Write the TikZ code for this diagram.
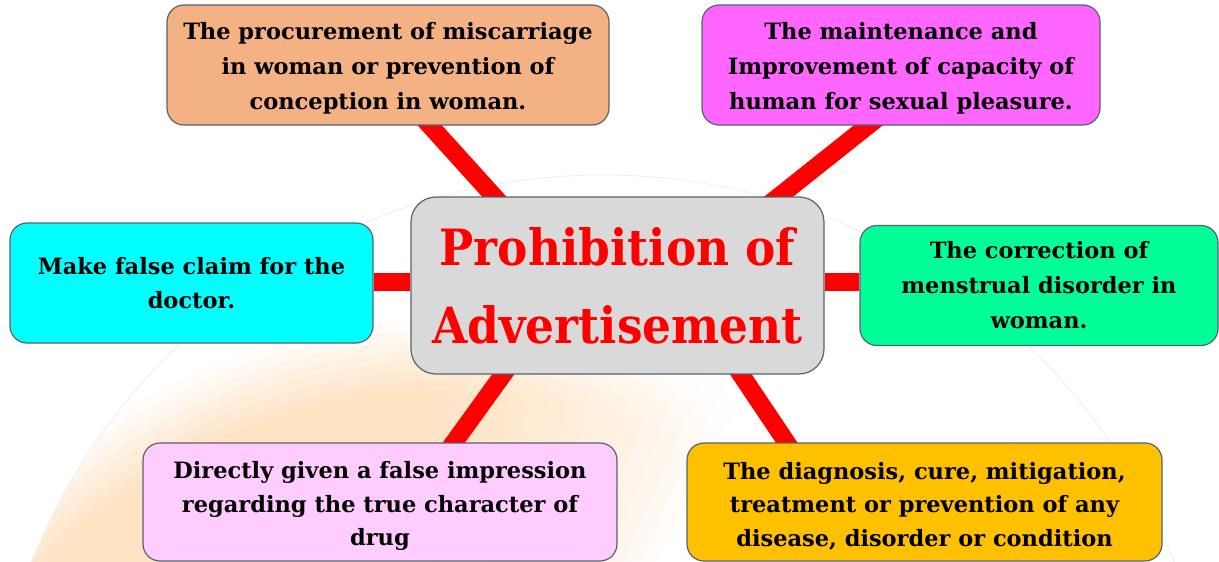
\documentclass[tikz,border=0pt]{standalone}
\usepackage{fontspec}
\setmainfont{DejaVu Serif}
\newfontfamily\boxfont{DejaVu Serif}
\newfontfamily\titlefont[FakeStretch=0.91]{DejaVu Serif}
\definecolor{bordercol}{RGB}{85,98,112}
\definecolor{peachc}{HTML}{F4B183}
\definecolor{magc}{HTML}{FF66FF}
\definecolor{cyanc}{HTML}{00FFFF}
\definecolor{greenc}{HTML}{00FF99}
\definecolor{pinkc}{HTML}{FFCCFF}
\definecolor{orangec}{HTML}{FFC000}
\definecolor{grayc}{HTML}{D9D9D9}
\definecolor{glowP}{HTML}{FFD9B0}
\pgfdeclarelayer{back}
\pgfdeclarelayer{links}
\pgfsetlayers{back,links,main}
\begin{document}
\begin{tikzpicture}[x=1pt,y=-1pt,
  box/.style={draw=bordercol, line width=1.2pt, rounded corners=17pt, inner sep=0pt},
  txt/.style={align=center, inner sep=0pt, text=black, font=\boxfont\bfseries\fontsize{22.5}{35}\selectfont},
  tight/.style={font=\boxfont\bfseries\fontsize{22.5}{33.5}\selectfont},
  titlebox/.style={draw=bordercol, line width=1.2pt, rounded corners=25pt, align=center, inner sep=0pt, fill=grayc, text=red,
    font=\titlefont\bfseries\fontsize{50}{78}\selectfont},
  conn/.style={draw=red, line width=18pt, shorten <=-14pt, shorten >=-14pt}]
\useasboundingbox (0,0) rectangle (1219,562);

% nodes
\node[titlebox, minimum width=413pt, minimum height=177pt] (c) at (617.5,285.5) {Prohibition of\\Advertisement};
\node[box, fill=peachc, minimum width=442pt, minimum height=120pt] (tl) at (388,65) {};
\node[txt] (tlt) at ([yshift=-3.5pt]tl.center) {The procurement of miscarriage\\in woman or prevention of\\conception in woman.};
\node[box, fill=magc, minimum width=398pt, minimum height=120pt] (tr) at (901,65) {};
\node[txt] (trt) at ([yshift=-3.5pt]tr.center) {The maintenance and\\Improvement of capacity of\\human for sexual pleasure.};
\node[box, fill=cyanc, minimum width=363pt, minimum height=120pt] (l) at (191.5,283) {};
\node[txt, tight] (lt) at (l.center) {Make false claim for the\\doctor.};
\node[box, fill=greenc, minimum width=358pt, minimum height=120pt] (r) at (1039,285.5) {};
\node[txt] (rt) at (r.center) {The correction of\\menstrual disorder in\\woman.};
\node[box, fill=pinkc, minimum width=474pt, minimum height=118pt] (bl) at (380,502) {};
\node[txt, tight] (blt) at ([yshift=-4pt]bl.center) {Directly given a false impression\\regarding the true character of\\drug};
\node[box, fill=orangec, minimum width=475pt, minimum height=118pt] (br) at (924.5,502) {};
\node[txt, tight] (brt) at ([yshift=-4pt]br.center) {The diagnosis, cure, mitigation,\\treatment or prevention of any\\disease, disorder or condition};

% connectors
\begin{pgfonlayer}{links}
\draw[conn] ([xshift=42pt]tl.south) -- ([xshift=-123.5pt]c.north);
\draw[conn] ([xshift=-33pt]tr.south) -- ([xshift=161.5pt]c.north);
\draw[conn] ([xshift=-114.5pt]c.south) -- ([xshift=74pt]bl.north);
\draw[conn] ([xshift=123.5pt]c.south) -- ([xshift=-138pt]br.north);
\draw[draw=red, line width=18pt] ([yshift=1pt]l.east) -- ([yshift=1pt]l.east -| c.west);
\draw[draw=red, line width=18pt] ([yshift=4pt]r.west) -- ([yshift=4pt]r.west -| c.east);
\end{pgfonlayer}

% background glow: soft peach band inside a large faint circle, lower left
\begin{pgfonlayer}{back}
\begin{scope}
  \clip (603,790) circle[radius=615pt];
  \foreach \a in {62,64,...,92} {
    \begin{scope}
      \clip (450,950) -- ++(-\a:1300) -- (-900,-500) -- (-900,1600) -- (450,1600) -- cycle;
      \foreach \ri/\ro/\w in {300/320/15, 320/340/35, 340/360/60, 360/380/85, 380/560/100, 560/570/90, 570/580/78, 580/590/64, 590/600/50, 600/610/36, 610/620/22, 620/630/10} {
        \fill[glowP!\w!white, fill opacity=0.078, even odd rule] (450,950) circle[radius=\ro pt] circle[radius=\ri pt];
      }
    \end{scope}
  }
\end{scope}
\draw[black!6, line width=1pt] (603,790) circle[radius=615pt];
\end{pgfonlayer}
\end{tikzpicture}
\end{document}
